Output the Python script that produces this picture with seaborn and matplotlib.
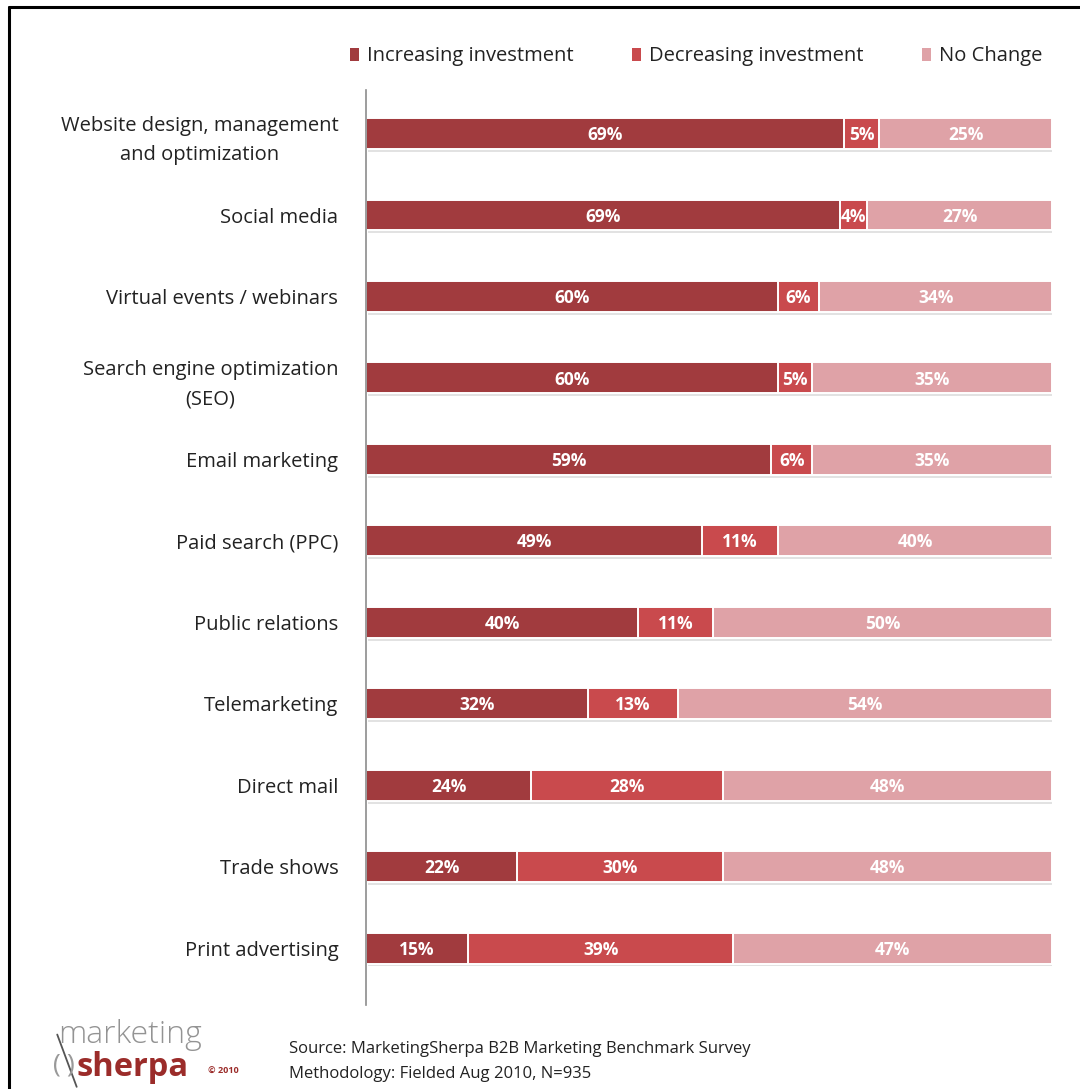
import numpy as np
import pandas as pd
import matplotlib
matplotlib.use("Agg")
import matplotlib.pyplot as plt
from matplotlib.patches import Patch
from matplotlib.lines import Line2D
import seaborn as sns

# Survey results: share of B2B marketers changing investment per tactic
categories = [
    "Website design, management\nand optimization",
    "Social media",
    "Virtual events / webinars",
    "Search engine optimization\n(SEO)",
    "Email marketing",
    "Paid search (PPC)",
    "Public relations",
    "Telemarketing",
    "Direct mail",
    "Trade shows",
    "Print advertising",
]
increasing = [69, 69, 60, 60, 59, 49, 40, 32, 24, 22, 15]
decreasing = [5, 4, 6, 5, 6, 11, 11, 13, 28, 30, 39]
no_change = [25, 27, 34, 35, 35, 40, 50, 54, 48, 48, 47]
series_names = ["Increasing investment", "Decreasing investment", "No Change"]

colors = ["#A13B3E", "#C94A4D", "#DFA2A7"]

sns.set_theme(style="white")
plt.rcParams["font.family"] = ["Open Sans", "DejaVu Sans"]

df = pd.DataFrame({
    "category": categories,
    "inc": increasing,
    "dec": decreasing,
    "nc": no_change,
})
# 100% stacked: each row is scaled to its own total
total = df["inc"] + df["dec"] + df["nc"]
df["inc_s"] = df["inc"] / total * 100
df["dec_s"] = df["dec"] / total * 100
df["nc_s"] = df["nc"] / total * 100
df["cum1"] = df["inc_s"]
df["cum2"] = df["inc_s"] + df["dec_s"]
df["cum3"] = df["cum2"] + df["nc_s"]

fig = plt.figure(figsize=(10.8, 10.89), dpi=100)
ax = fig.add_axes([0.339, 0.077, 0.6355, 0.84])

bar_h = 0.38
ypos = np.arange(len(categories))

# soft drop shadow under each bar
ax.barh(ypos + 0.035, df["cum3"], left=0.3, height=bar_h, color="#a0a0a0",
        alpha=0.3, linewidth=0, zorder=1)

# layered bars: full length first, then the shorter cumulative segments on top
for col, c in zip(["cum3", "cum2", "cum1"], [colors[2], colors[1], colors[0]]):
    sns.barplot(data=df, x=col, y="category", orient="h", color=c,
                width=bar_h, edgecolor="white", linewidth=1.4, ax=ax,
                saturation=1, zorder=2)

# segment labels
for i, row in df.iterrows():
    starts = [0, row["cum1"], row["cum2"]]
    widths = [row["inc_s"], row["dec_s"], row["nc_s"]]
    vals = [row["inc"], row["dec"], row["nc"]]
    for s, w, v in zip(starts, widths, vals):
        ax.text(s + w / 2, i + 0.02, f"{v}%", ha="center", va="center",
                color="white", fontsize=12.5, fontweight="bold", zorder=5)

ax.set_xlim(0, 100)
ax.set_ylim(10.70, -0.53)
ax.set_xlabel("")
ax.set_ylabel("")
ax.set_xticks([])
ax.tick_params(axis="y", length=0, pad=20, labelsize=14.5, labelcolor="#222222")
for lab in ax.get_yticklabels():
    lab.set_multialignment("center")
    lab.set_linespacing(1.6)
for side in ["top", "right", "bottom"]:
    ax.spines[side].set_visible(False)
ax.spines["left"].set_color("#8c8c8c")
ax.spines["left"].set_linewidth(1.2)
ax.grid(False)

# legend with small square keys
handles = [Patch(facecolor=c, edgecolor="none") for c in colors]
fig.legend(handles, series_names, loc="upper right",
           bbox_to_anchor=(0.982, 0.974), ncol=3, frameon=False,
           fontsize=14.5, handlelength=0.45, handleheight=0.65,
           handletextpad=0.4, columnspacing=2.9, labelcolor="#222222")

# frame lines along top and left edges
fig.add_artist(Line2D([0.0085, 1.0], [0.9935, 0.9935], color="black", lw=2.2))
fig.add_artist(Line2D([0.0085, 0.0085], [0.0, 0.9935], color="black", lw=2.2))

# source notes
fig.text(0.268, 0.037, "Source: MarketingSherpa B2B Marketing Benchmark Survey",
         fontsize=12, color="#222222", va="center")
fig.text(0.268, 0.014, "Methodology: Fielded Aug 2010, N=935",
         fontsize=12, color="#222222", va="center")

# publisher wordmark
fig.text(0.054, 0.050, "marketing", fontsize=23, color="#939393",
         fontweight="light", va="center")
fig.text(0.071, 0.020, "sherpa", fontsize=23.5, color="#9B2C2A",
         fontweight="bold", va="center")
fig.text(0.193, 0.016, "© 2010", fontsize=6.5, color="#9B2C2A",
         fontweight="bold", va="center")
fig.text(0.049, 0.022, "(", fontsize=19, color="#999999", va="center")
fig.text(0.061, 0.022, ")", fontsize=19, color="#999999", va="center")
fig.add_artist(Line2D([0.053, 0.071], [0.050, 0.002], color="#555555", lw=1.3))

fig.savefig("out.png", dpi=100, facecolor="white")
